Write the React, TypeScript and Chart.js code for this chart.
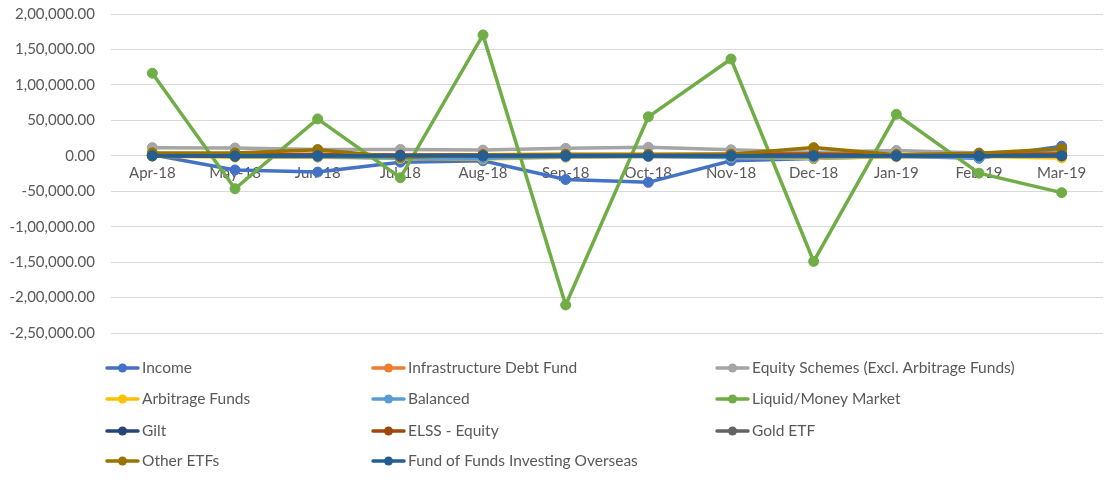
import React, { useEffect, useRef } from "react";
import { Chart, registerables } from "chart.js";

Chart.register(...registerables);

const categories = ["Apr-18", "May-18", "Jun-18", "Jul-18", "Aug-18", "Sep-18", "Oct-18", "Nov-18", "Dec-18", "Jan-19", "Feb-19", "Mar-19"];

const income = [1500, -20000, -23000, -9000, -7000, -33500, -37500, -7000, -4000, -500, -3500, 13500];
const infrastructureDebt = [0, 0, 0, 0, 0, 0, 0, 0, 0, 0, 0, 0];
const equitySchemes = [11500, 11000, 9000, 9000, 8000, 10500, 12000, 8500, 5000, 7500, 4000, 6000];
const arbitrageFunds = [-500, -2000, -2000, -4000, -4500, -2000, -1000, -2500, -3500, -1500, -1000, -3000];
const balanced = [2000, -1000, -1500, -3000, -3500, -1500, -1000, -2500, -2000, -500, -2500, 10000];
const liquidMoneyMarket = [116500, -46500, 52000, -31000, 170500, -210500, 55000, 136500, -149000, 58500, -24500, -52000];
const gilt = [0, -500, 0, 500, 0, 0, 0, 0, 0, 0, 0, 0];
const elssEquity = [2000, 1500, 2000, 1000, 1500, 1500, 1500, 2000, 2500, 1500, 1500, 2500];
const goldEtf = [0, 0, 0, -500, 0, 0, 0, 0, 0, 0, 0, 0];
const otherEtfs = [4000, 4000, 8500, -2000, 1500, 2000, 2000, 2000, 11500, 1500, 3500, 10000];
const fundOfFundsOverseas = [0, 0, 0, 0, 0, 0, 0, 0, 0, 0, 0, 0];

const seriesNames = [
  "Income",
  "Infrastructure Debt Fund",
  "Equity Schemes (Excl. Arbitrage Funds)",
  "Arbitrage Funds",
  "Balanced",
  "Liquid/Money Market",
  "Gilt",
  "ELSS - Equity",
  "Gold ETF",
  "Other ETFs",
  "Fund of Funds Investing Overseas",
];
const seriesValues = [income, infrastructureDebt, equitySchemes, arbitrageFunds, balanced, liquidMoneyMarket, gilt, elssEquity, goldEtf, otherEtfs, fundOfFundsOverseas];
const seriesColors = ["#4472C4", "#ED7D31", "#A5A5A5", "#FFC000", "#5B9BD5", "#70AD47", "#264478", "#9E480E", "#636363", "#997300", "#255E91"];

const FONT = "Lato, Calibri, 'Open Sans', sans-serif";
const TEXT = "#595959";
const SHIFT = 11;

function formatIndian(v: number): string {
  const neg = v < 0;
  const n = Math.abs(Math.round(v));
  const s = String(n);
  let out: string;
  if (s.length <= 3) out = s;
  else {
    const last3 = s.slice(-3);
    let rest = s.slice(0, -3);
    const parts: string[] = [];
    while (rest.length > 2) {
      parts.unshift(rest.slice(-2));
      rest = rest.slice(0, -2);
    }
    if (rest.length) parts.unshift(rest);
    out = parts.join(",") + "," + last3;
  }
  return (neg ? "-" : "") + out + ".00";
}

const gridLegend = {
  id: "gridLegend",
  afterDraw(chart: any) {
    const ctx = chart.ctx;
    const colX = [107, 373, 717];
    const rowY = [368, 399, 431, 461];
    ctx.save();
    chart.data.datasets.forEach((ds: any, i: number) => {
      const col = i % 3;
      const row = Math.floor(i / 3);
      const x = colX[col];
      const y = rowY[row] + SHIFT;
      ctx.strokeStyle = ds.borderColor;
      ctx.lineWidth = 3.5;
      ctx.lineCap = "round";
      ctx.beginPath();
      ctx.moveTo(x, y);
      ctx.lineTo(x + 31, y);
      ctx.stroke();
      ctx.fillStyle = ds.borderColor;
      ctx.beginPath();
      ctx.arc(x + 15.5, y, 4.5, 0, Math.PI * 2);
      ctx.fill();
      ctx.fillStyle = TEXT;
      ctx.font = `15.5px ${FONT}`;
      ctx.textBaseline = "middle";
      ctx.textAlign = "left";
      ctx.fillText(ds.label, x + 35, y);
    });
    ctx.restore();
  },
};

export default function App() {
  const ref = useRef<HTMLCanvasElement | null>(null);
  useEffect(() => {
    document.body.style.margin = "0";
    const n = seriesNames.length;
    const chart = new Chart(ref.current as HTMLCanvasElement, {
      type: "line",
      data: {
        labels: categories,
        datasets: seriesNames.map((name, i) => ({
          label: name,
          data: seriesValues[i],
          borderColor: seriesColors[i],
          backgroundColor: seriesColors[i],
          pointBackgroundColor: seriesColors[i],
          pointBorderColor: seriesColors[i],
          borderWidth: 3.5,
          pointRadius: 5,
          pointBorderWidth: 1,
          tension: 0,
          fill: false,
          order: n - i,
        })),
      },
      options: {
        animation: false,
        responsive: false,
        maintainAspectRatio: false,
        layout: { padding: { top: 13, right: 11, bottom: 147, left: 0 } },
        plugins: {
          legend: { display: false },
          tooltip: { enabled: false },
        },
        scales: {
          x: {
            position: { y: 0 } as any,
            offset: true,
            grid: { display: false, drawTicks: false },
            border: { display: true, color: "#D9D9D9", width: 1 },
            ticks: { color: TEXT, font: { family: FONT, size: 15 }, padding: 8, maxRotation: 0, autoSkip: false },
          },
          y: {
            min: -250000,
            max: 200000,
            afterFit: (scale: any) => {
              scale.width = 111;
            },
            grid: { color: "#D9D9D9", lineWidth: 1, drawTicks: false },
            border: { display: false },
            ticks: {
              stepSize: 50000,
              color: TEXT,
              padding: 16,
              font: { family: FONT, size: 15 },
              callback: (v: any) => formatIndian(Number(v)),
            },
          },
        },
      },
      plugins: [gridLegend],
    });
    return () => chart.destroy();
  }, []);
  return (
    <div style={{ position: "absolute", left: 0, top: 0, width: 1114, height: 480, overflow: "hidden", background: "#fff" }}>
      <canvas ref={ref} width={1114} height={480 + SHIFT} style={{ position: "absolute", left: 0, top: -SHIFT }} />
    </div>
  );
}
